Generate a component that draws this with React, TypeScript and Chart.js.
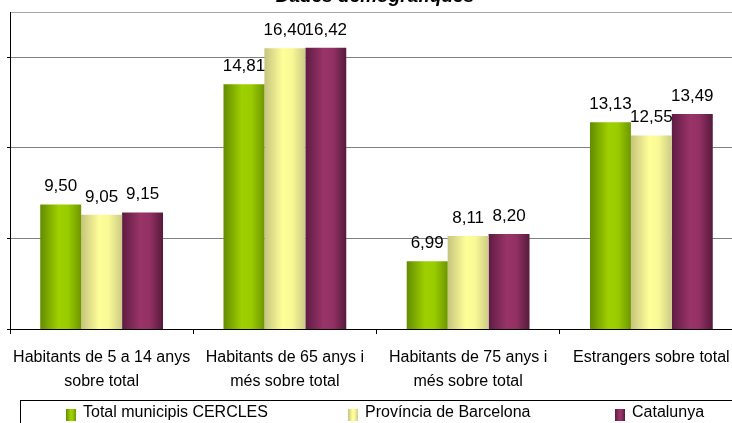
import React, { useEffect, useRef } from "react";
import { Chart, registerables } from "chart.js";

Chart.register(...registerables);

// ---- data ----
const titleText = "Dades demogràfiques";
const categories: string[][] = [
  ["Habitants de 5 a 14 anys", "sobre total"],
  ["Habitants de 65 anys i", "més sobre total"],
  ["Habitants de 75 anys i", "més sobre total"],
  ["Estrangers sobre total"],
];
const seriesNames = ["Total municipis CERCLES", "Província de Barcelona", "Catalunya"];
const cercles = [9.5, 14.81, 6.99, 13.13];
const barcelona = [9.05, 16.4, 8.11, 12.55];
const catalunya = [9.15, 16.42, 8.2, 13.49];
const yMin = 4;
const yMax = 18;
const yStep = 4;

// ---- styles ----
const FONT = "'Liberation Sans', Arial, sans-serif";
const CAT_PCT = 0.67;
const gradientStops: string[][] = [
  ["#638c00", "#9fd000", "#99cc00", "#6f9600"],
  ["#c6c47e", "#ffff99", "#f8f895", "#cccb86"],
  ["#5e1c43", "#9a3468", "#923063", "#561a3b"],
];
const solid = ["#8cbc00", "#eeee8e", "#8a2b5a"];
const stopPos = [0, 0.45, 0.68, 1];

const fmt = (v: number) => v.toFixed(2).replace(".", ",");

const dataLabels = {
  id: "dataLabels",
  afterDatasetsDraw(chart: any) {
    const { ctx } = chart;
    ctx.save();
    ctx.font = `17px ${FONT}`;
    ctx.fillStyle = "#000";
    ctx.textAlign = "center";
    ctx.textBaseline = "alphabetic";
    chart.data.datasets.forEach((ds: any, di: number) => {
      const meta = chart.getDatasetMeta(di);
      meta.data.forEach((el: any, i: number) => {
        ctx.fillText(fmt(ds.data[i]), el.x, el.y - 13);
      });
    });
    ctx.restore();
  },
};

const boxLegend = {
  id: "boxLegend",
  afterDraw(chart: any) {
    const { ctx, chartArea } = chart;
    const l = chartArea.left;
    const top = chart.scales.x.bottom + 7;
    ctx.save();
    ctx.strokeStyle = "#000";
    ctx.lineWidth = 1;
    ctx.strokeRect(Math.round(l + 10) + 0.5, Math.round(top) + 0.5, 713, 30);
    const offs = [56, 338, 605];
    ctx.font = `16px ${FONT}`;
    ctx.textBaseline = "middle";
    ctx.textAlign = "left";
    seriesNames.forEach((name, i) => {
      const x = Math.round(l + offs[i]);
      const g = ctx.createLinearGradient(x, 0, x + 10, 0);
      gradientStops[i].forEach((c, k) => g.addColorStop(stopPos[k], c));
      ctx.fillStyle = g;
      ctx.fillRect(x, top + 9, 10, 12);
      ctx.fillStyle = "#000";
      ctx.fillText(name, x + 17, top + 13);
    });
    ctx.restore();
  },
};

function barGradient(series: number) {
  return (c: any) => {
    const chart = c.chart;
    const xs = chart.scales && chart.scales.x;
    if (!chart.chartArea || !xs || c.dataIndex == null) return solid[series];
    const center = xs.getPixelForValue(c.dataIndex);
    const catW = (xs.right - xs.left) / categories.length;
    const groupW = catW * CAT_PCT;
    const barW = groupW / 3;
    const left = center - groupW / 2 + c.datasetIndex * barW;
    const g = chart.ctx.createLinearGradient(left, 0, left + barW, 0);
    gradientStops[series].forEach((col, k) => g.addColorStop(stopPos[k], col));
    return g;
  };
}

export default function App() {
  const ref = useRef<HTMLCanvasElement | null>(null);
  useEffect(() => {
    if (!ref.current) return;
    const chart = new Chart(ref.current, {
      type: "bar",
      data: {
        labels: categories,
        datasets: [cercles, barcelona, catalunya].map((d, i) => ({
          label: seriesNames[i],
          data: d,
          backgroundColor: barGradient(i),
          borderWidth: 0,
          categoryPercentage: CAT_PCT,
          barPercentage: 1,
        })),
      },
      options: {
        responsive: false,
        animation: false,
        devicePixelRatio: 1,
        layout: { padding: { left: 27, right: 29, top: 0, bottom: 57 } },
        plugins: {
          legend: { display: false },
          tooltip: { enabled: false },
          title: {
            display: true,
            text: titleText,
            color: "#000",
            font: { family: FONT, size: 19, weight: "bold", style: "italic", lineHeight: 1.2 },
            padding: { top: 15, bottom: 4.2 },
          },
        },
        scales: {
          x: {
            offset: true,
            border: { display: true, color: "#000", width: 1 },
            grid: {
              display: true,
              offset: true,
              drawOnChartArea: false,
              drawTicks: true,
              tickLength: 5,
              tickColor: "#000",
            },
            ticks: {
              color: "#000",
              autoSkip: false,
              maxRotation: 0,
              minRotation: 0,
              padding: 12,
              font: { family: FONT, size: 16, lineHeight: 24 / 16 },
            },
            afterFit: (s: any) => {
              s.height = 64;
            },
          },
          y: {
            min: yMin,
            max: yMax,
            border: { display: true, color: "#000", width: 1 },
            grid: {
              color: (c: any) =>
                c.tick && c.tick.value === yMax ? "#a8a8a8" : c.tick && c.tick.value === yMin ? "#000" : "#808080",
              tickColor: (c: any) => (c.tick && c.tick.value === yMax ? "rgba(0,0,0,0)" : "#000"),
              tickLength: 3,
              drawTicks: true,
            },
            ticks: { display: false, stepSize: yStep },
            afterFit: (s: any) => {
              s.width = 3;
            },
          },
        },
      },
      plugins: [dataLabels, boxLegend],
    } as any);
    return () => chart.destroy();
  }, []);

  return (
    <div
      style={{
        position: "fixed",
        left: 0,
        top: 0,
        width: 732,
        height: 423,
        overflow: "hidden",
        background: "#fff",
      }}
    >
      <canvas
        ref={ref}
        width={792}
        height={480}
        style={{ position: "absolute", left: -20, top: -30, width: 792, height: 480 }}
      />
    </div>
  );
}
